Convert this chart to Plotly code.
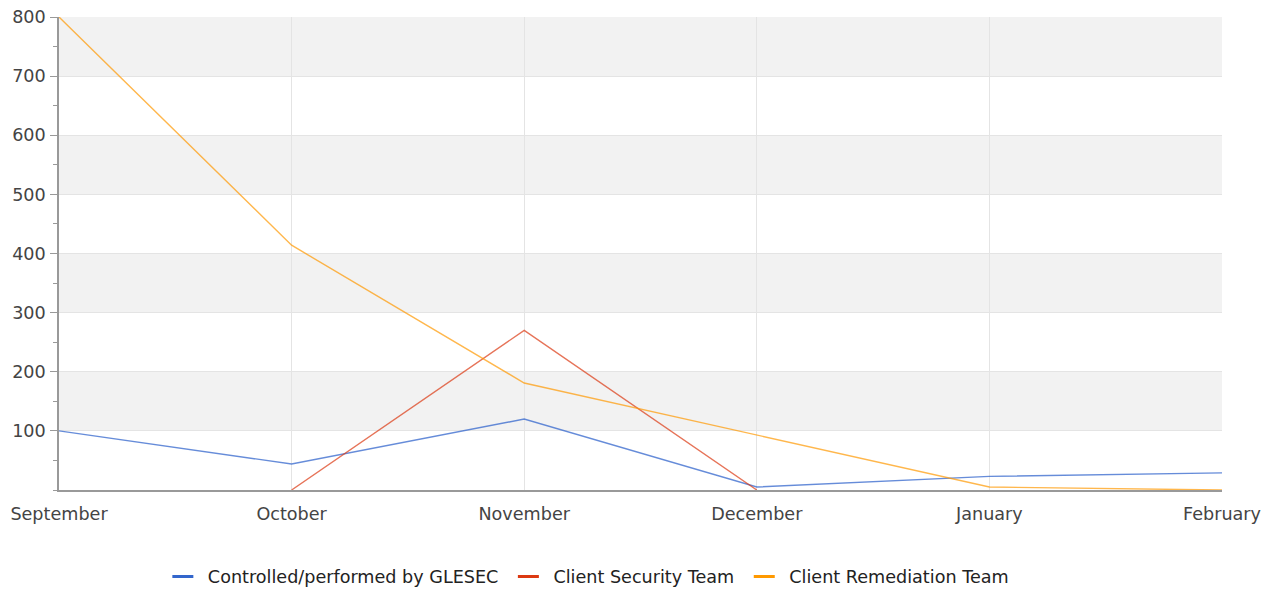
import plotly.graph_objects as go

months = ["September", "October", "November", "December", "January", "February"]
glesec = [100, 44, 120, 5, 23, 29]
security = [None, 0, 270, 0, None, None]
remediation = [800, 414, 181, 93, 5, 0]
y_ticks = [100, 200, 300, 400, 500, 600, 700, 800]

names = ["Controlled/performed by GLESEC", "Client Security Team", "Client Remediation Team"]
series = [glesec, security, remediation]
line_colors = ["rgba(51,102,204,0.75)", "rgba(220,57,18,0.7)", "rgba(255,153,0,0.7)"]
legend_colors = ["#3366cc", "#dc3912", "#ff9900"]

FS = 17.6

fig = go.Figure()
idx = list(range(len(months)))
for name, vals, lc in zip(names, series, line_colors):
    fig.add_trace(go.Scatter(x=idx, y=vals, mode="lines", name=name,
                             line=dict(color=lc, width=1.4), showlegend=False,
                             connectgaps=False, hoverinfo="x+y"))
for name, c in zip(names, legend_colors):
    fig.add_trace(go.Scatter(x=[None], y=[None], mode="markers", name=name,
                             marker=dict(symbol="line-ew-open", size=15, color=c,
                                         line=dict(color=c, width=3))))

# alternating background bands
for lo in range(100, 800, 200):
    fig.add_shape(type="rect", xref="paper", yref="y", x0=0, x1=1, y0=lo, y1=lo + 100,
                  fillcolor="#f2f2f2", line_width=0, layer="below")

fig.update_layout(
    width=1268, height=582,
    margin=dict(l=51, r=54, t=9, b=100, autoexpand=False),
    paper_bgcolor="white", plot_bgcolor="white",
    font=dict(family="DejaVu Sans", size=FS, color="#444"),
    xaxis=dict(range=[0, len(months) - 1], tickvals=idx, ticktext=months,
               showgrid=True, gridcolor="#e4e4e4", gridwidth=1,
               showline=True, linecolor="#999", linewidth=1.5,
               ticks="", ticklen=0, zeroline=False, automargin=False,
               ticklabelstandoff=7, ticklabeloverflow="allow",
               tickfont=dict(size=FS, color="#444")),
    yaxis=dict(range=[0, 800], tickvals=y_ticks, showgrid=True, gridcolor="#e4e4e4",
               showline=True, linecolor="#999", linewidth=1.5, zeroline=False,
               ticks="outside", ticklen=7, tickcolor="#999", automargin=False,
               ticklabelstandoff=1, ticklabeloverflow="allow",
               minor=dict(dtick=50, ticks="outside", ticklen=4, tickcolor="#999", showgrid=False),
               tickfont=dict(size=FS, color="#444")),
    legend=dict(orientation="h", x=0.085, xanchor="left", y=-0.145, yanchor="top",
                itemwidth=40, font=dict(size=FS, color="#222")),
)

fig.write_html("out.html")
